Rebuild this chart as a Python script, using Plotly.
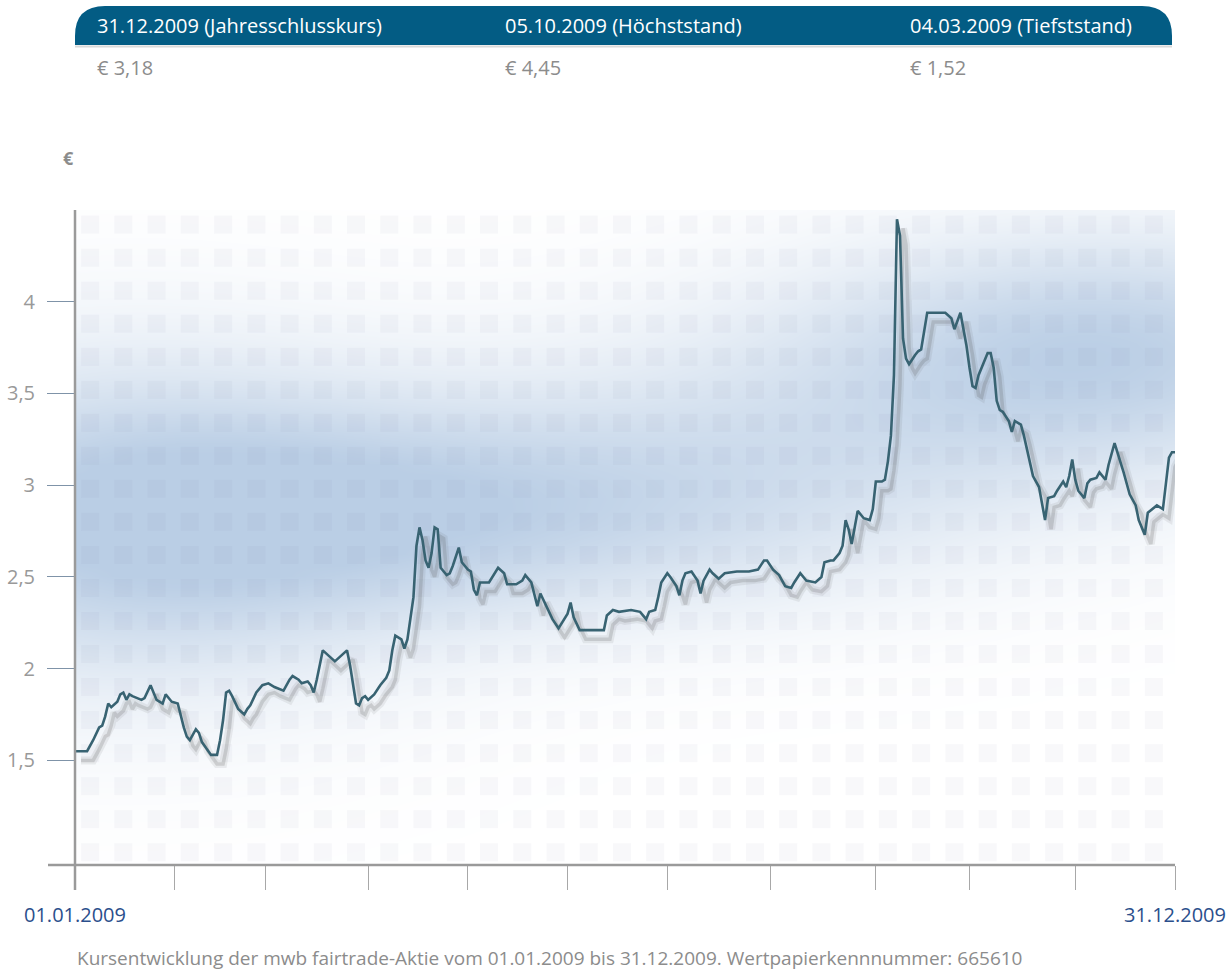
import numpy as np
import pandas as pd
import plotly.graph_objects as go

# ---------------- data ----------------
# days since 01.01.2009
tage = [0, 4, 6, 8, 9, 10, 11, 12, 14, 15, 16, 17, 18, 19, 22, 23, 25, 26, 27, 29,
        30, 31, 32, 34, 35, 36, 37, 38, 40, 41, 42, 44, 45, 47, 48, 49, 50, 51, 52, 54,
        56, 57, 58, 60, 62, 64, 66, 69, 71, 72, 74, 75, 77, 78, 79, 80, 81, 82, 84, 86,
        88, 90, 91, 92, 93, 94, 95, 96, 97, 99, 101, 103, 104, 105, 106, 108, 109, 110, 111, 112,
        113, 114, 115, 116, 117, 118, 119, 120, 121, 123, 124, 125, 127, 128, 130, 131, 132, 133, 134, 137,
        140, 142, 143, 146, 148, 149, 151, 153, 154, 156, 158, 160, 163, 164, 165, 167, 175, 176, 178, 180,
        184, 187, 189, 190, 192, 193, 194, 196, 197, 199, 200, 201, 202, 204, 206, 207, 208, 210, 211, 213,
        215, 219, 223, 226, 228, 229, 231, 233, 235, 237, 238, 240, 242, 245, 247, 248, 250, 251, 253, 254,
        255, 256, 257, 258, 259, 261, 263, 264, 265, 267, 268, 269, 270, 271, 272, 273, 274, 275, 276, 278,
        279, 280, 281, 282, 288, 290, 291, 292, 293, 294, 295, 296, 297, 298, 299, 302, 303, 304, 305, 306,
        307, 309, 310, 311, 313, 314, 315, 316, 317, 319, 320, 321, 322, 324, 325, 327, 328, 329, 330, 331,
        332, 334, 335, 336, 338, 339, 341, 342, 344, 345, 346, 347, 349, 351, 352, 354, 355, 357, 358, 360,
        361, 362, 363, 364]
kurs = [1.55, 1.55, 1.61, 1.68, 1.69, 1.74, 1.81, 1.79, 1.82, 1.86, 1.87, 1.83, 1.86, 1.85, 1.83, 1.84, 1.91, 1.87, 1.83, 1.81,
        1.86, 1.84, 1.82, 1.81, 1.74, 1.68, 1.63, 1.61, 1.67, 1.65, 1.60, 1.55, 1.53, 1.53, 1.61, 1.72, 1.87, 1.88, 1.85, 1.78,
        1.75, 1.78, 1.80, 1.87, 1.91, 1.92, 1.90, 1.88, 1.94, 1.96, 1.94, 1.92, 1.93, 1.91, 1.87, 1.94, 2.03, 2.10, 2.07, 2.04,
        2.07, 2.10, 2.02, 1.92, 1.81, 1.80, 1.84, 1.85, 1.83, 1.86, 1.91, 1.95, 1.99, 2.10, 2.18, 2.16, 2.11, 2.16, 2.27, 2.39,
        2.67, 2.77, 2.70, 2.59, 2.55, 2.63, 2.77, 2.76, 2.55, 2.51, 2.52, 2.56, 2.66, 2.58, 2.54, 2.53, 2.43, 2.40, 2.47, 2.47,
        2.55, 2.52, 2.46, 2.46, 2.48, 2.51, 2.47, 2.34, 2.41, 2.34, 2.27, 2.22, 2.30, 2.36, 2.28, 2.21, 2.21, 2.29, 2.32, 2.31,
        2.32, 2.31, 2.27, 2.31, 2.32, 2.39, 2.47, 2.52, 2.50, 2.45, 2.40, 2.48, 2.52, 2.53, 2.48, 2.41, 2.48, 2.54, 2.52, 2.49,
        2.52, 2.53, 2.53, 2.54, 2.59, 2.59, 2.54, 2.51, 2.45, 2.44, 2.47, 2.52, 2.48, 2.47, 2.50, 2.58, 2.59, 2.59, 2.63, 2.67,
        2.81, 2.76, 2.68, 2.77, 2.86, 2.82, 2.81, 2.87, 3.02, 3.02, 3.03, 3.13, 3.27, 3.60, 4.45, 4.36, 3.80, 3.69, 3.66, 3.71,
        3.73, 3.74, 3.84, 3.94, 3.94, 3.91, 3.85, 3.90, 3.94, 3.85, 3.76, 3.64, 3.54, 3.53, 3.60, 3.72, 3.72, 3.64, 3.46, 3.41,
        3.40, 3.35, 3.29, 3.35, 3.33, 3.27, 3.19, 3.11, 3.05, 2.99, 2.91, 2.81, 2.93, 2.94, 2.97, 3.02, 2.99, 3.05, 3.14, 3.03,
        2.97, 2.93, 3.01, 3.03, 3.04, 3.07, 3.03, 3.11, 3.23, 3.18, 3.12, 3.07, 2.95, 2.89, 2.81, 2.73, 2.85, 2.88, 2.89, 2.87,
        3.02, 3.15, 3.18, 3.18]
assert len(tage) == len(kurs)

tick_tage = [0, 33, 63, 97, 130, 163, 196, 230, 265, 296, 331, 364]
tick_texte = ["01.01.2009"] + [""] * 10 + ["31.12.2009"]
y_ticks = [1.5, 2, 2.5, 3, 3.5, 4]
y_tick_texte = ["1,5", "2", "2,5", "3", "3,5", "4"]

kopf_titel = ["31.12.2009 (Jahresschlusskurs)", "05.10.2009 (Höchststand)", "04.03.2009 (Tiefststand)"]
kopf_werte = ["€ 3,18", "€ 4,45", "€ 1,52"]
unterschrift = ("Kursentwicklung der mwb fairtrade-Aktie vom 01.01.2009 bis 31.12.2009. "
                "Wertpapierkennnummer: 665610")

# ---------------- layout constants ----------------
W, H = 1226, 977
L, R, T, B = 75, 1175, 210, 865          # plot area in pixels
Y_MIN, Y_MAX = 0.93, 4.5
FONT = "Open Sans"
HEAD_BLUE = "#035c84"
LINE_COL = "#386372"


def px(x):
    return (x - L) / (R - L)


def py(y):
    return (B - y) / (B - T)


start = pd.Timestamp("2009-01-01")
datum = start + pd.to_timedelta(tage, unit="D")
tick_datum = start + pd.to_timedelta(tick_tage, unit="D")

fig = go.Figure()

# --- decorative blue haze (background) ---
hd = np.arange(0, 365, 3)
hv = np.linspace(Y_MIN, Y_MAX, 60)
D, V = np.meshgrid(hd, hv)
blobs = [(15, 2.8, 70, 0.65, 0.85), (130, 2.85, 90, 0.42, 0.75),
         (345, 3.75, 70, 0.45, 0.85), (250, 3.3, 80, 0.5, 0.35)]
Z = np.zeros_like(D, dtype=float)
for cx, cy, sx, sy, a in blobs:
    Z += a * np.exp(-0.5 * ((D - cx) / sx) ** 2 - 0.5 * ((V - cy) / sy) ** 2)
Z = np.clip(Z, 0, 1)
fig.add_trace(go.Heatmap(
    x=start + pd.to_timedelta(hd, unit="D"), y=hv, z=Z, zmin=0, zmax=1,
    colorscale=[[0, "rgb(255,255,255)"], [1, "rgb(186,206,229)"]],
    showscale=False, zsmooth="best", hoverinfo="skip"))

# --- decorative square pattern ---
gd = np.arange(5, 364, 11)
gv = np.arange(1.0, 4.45, 0.18)
GD, GV = np.meshgrid(gd, gv)
fig.add_trace(go.Scatter(
    x=start + pd.to_timedelta(GD.ravel(), unit="D"), y=GV.ravel(), mode="markers",
    marker=dict(symbol="square", size=18, color="rgba(110,125,150,0.05)", line=dict(width=0)),
    hoverinfo="skip", showlegend=False))

# --- shadow of the line ---
shadow_x = datum + pd.Timedelta(days=2)
shadow_y = [v - 0.05 for v in kurs]
fig.add_trace(go.Scatter(x=shadow_x, y=shadow_y, mode="lines",
                         line=dict(color="rgba(80,80,80,0.09)", width=8),
                         hoverinfo="skip", showlegend=False))
fig.add_trace(go.Scatter(x=shadow_x, y=shadow_y, mode="lines",
                         line=dict(color="rgba(80,80,80,0.18)", width=3.5),
                         hoverinfo="skip", showlegend=False))

# --- the price line ---
fig.add_trace(go.Scatter(x=datum, y=kurs, mode="lines",
                         line=dict(color=LINE_COL, width=2.6),
                         name="Kurs", showlegend=False))

# ---------------- shapes ----------------
x0, x1 = px(75), px(1172)
yb, yt = py(45), py(6)
rx, ry = 30 / (R - L), 30 / (B - T)
head_path = (f"M {x0},{yb} L {x0},{yt - ry} Q {x0},{yt} {x0 + rx},{yt} "
             f"L {x1 - rx},{yt} Q {x1},{yt} {x1},{yt - ry} L {x1},{yb} Z")
shapes = [
    dict(type="line", xref="paper", yref="paper", x0=px(75), x1=px(1172), y0=py(46.5), y1=py(46.5),
         line=dict(color="rgba(0,0,0,0.15)", width=2)),
    dict(type="path", xref="paper", yref="paper", path=head_path,
         fillcolor=HEAD_BLUE, line=dict(width=0)),
    # axis lines
    dict(type="line", xref="paper", yref="paper", x0=px(48), x1=px(1175), y0=0, y1=0,
         line=dict(color="#9a9a9a", width=2.5)),
    dict(type="line", xref="paper", yref="paper", x0=0, x1=0, y0=py(890), y1=1,
         line=dict(color="#9a9a9a", width=2.5)),
]

# ---------------- annotations ----------------
ann = []
for i, (t, v) in enumerate(zip(kopf_titel, kopf_werte)):
    xs = [95, 503, 908][i]
    ann.append(dict(text=t, x=px(xs), y=py(25), xref="paper", yref="paper",
                    xanchor="left", yanchor="middle", showarrow=False,
                    font=dict(family=FONT, size=20, color="white")))
    ann.append(dict(text=v, x=px(xs), y=py(68), xref="paper", yref="paper",
                    xanchor="left", yanchor="middle", showarrow=False,
                    font=dict(family=FONT, size=20, color="#8c8c8c")))
ann.append(dict(text="<b>€</b>", x=px(68), y=py(158), xref="paper", yref="paper",
                xanchor="center", yanchor="middle", showarrow=False,
                font=dict(family=FONT, size=18, color="#8c8c8c")))
ann.append(dict(text=unterschrift, x=px(75), y=py(958), xref="paper", yref="paper",
                xanchor="left", yanchor="middle", showarrow=False,
                font=dict(family=FONT, size=19, color="#8c8c8c")))

fig.update_layout(
    width=W, height=H,
    margin=dict(l=L, r=W - R, t=T, b=H - B, pad=0, autoexpand=False),
    paper_bgcolor="white", plot_bgcolor="white",
    font=dict(family=FONT),
    showlegend=False,
    shapes=shapes, annotations=ann,
    xaxis=dict(type="date", range=[start, start + pd.Timedelta(days=364)],
               tickvals=tick_datum, ticktext=tick_texte, automargin=False,
               ticks="outside", ticklen=24, tickwidth=1, tickcolor="#a8a8a8",
               tickfont=dict(family=FONT, size=20, color="#2b4f8c"),
               ticklabelstandoff=8,
               showgrid=False, zeroline=False, showline=False, fixedrange=True),
    yaxis=dict(range=[Y_MIN, Y_MAX], tickvals=y_ticks, ticktext=y_tick_texte, automargin=False,
               ticks="outside", ticklen=27, tickwidth=1, tickcolor="#7f93a8",
               tickfont=dict(family=FONT, size=20, color="#999999"),
               ticklabelstandoff=8,
               showgrid=False, zeroline=False, showline=False, fixedrange=True),
)

fig.write_html("out.html")
